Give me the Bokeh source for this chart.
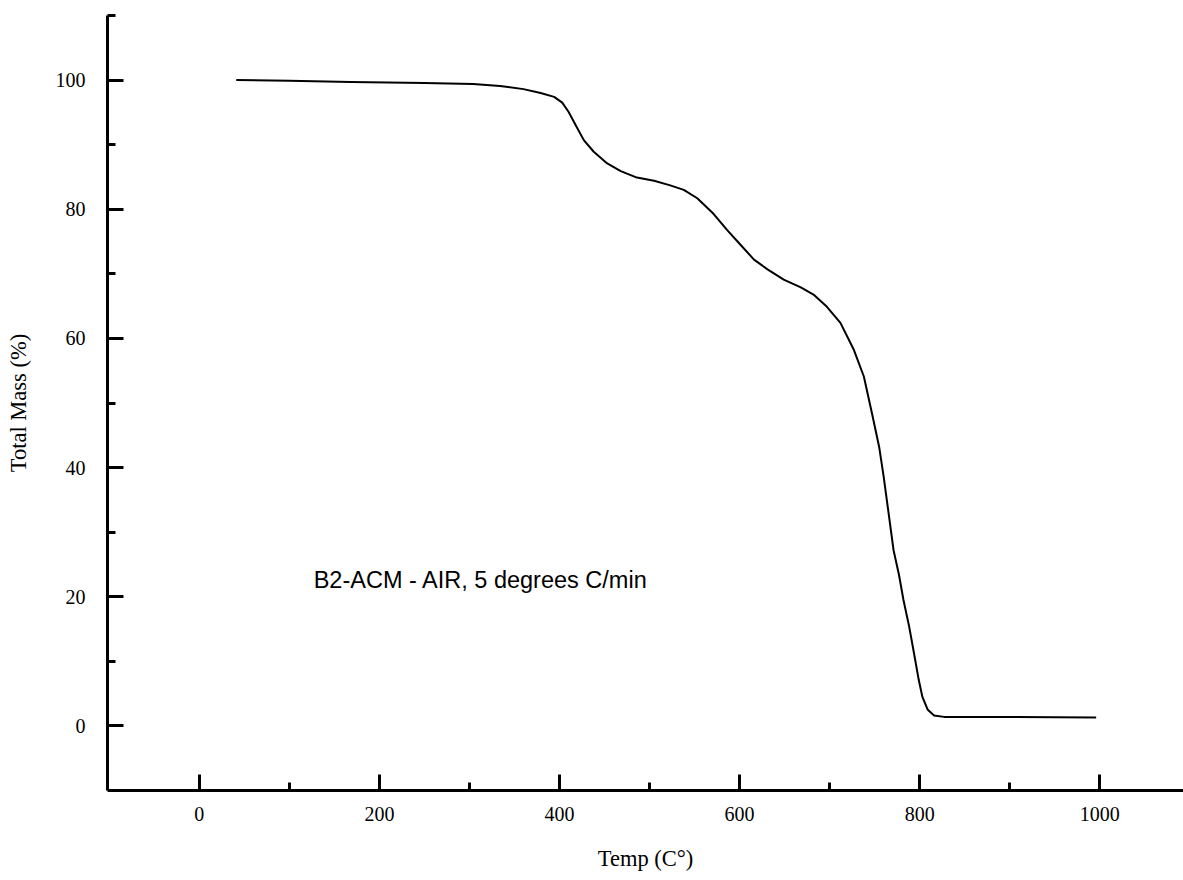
from bokeh.plotting import figure
from bokeh.models import Range1d, FixedTicker, Label, ColumnDataSource
from bokeh.embed import file_html
from bokeh.resources import INLINE

# Temperature (deg C) and total mass (%)
temp = [41, 100, 168, 250, 304, 334, 360, 379, 394, 403, 410, 418, 427, 438,
        453, 468, 486, 505, 523, 538, 553, 571, 586, 601, 616, 631, 649, 668,
        683, 697, 712, 727, 738, 747, 755, 760, 766, 771, 777, 782, 788, 793,
        799, 803, 809, 816, 827, 900, 996]
mass = [100.0, 99.9, 99.7, 99.55, 99.4, 99.1, 98.6, 98.0, 97.4, 96.5, 95.1,
        93.0, 90.7, 88.9, 87.1, 85.9, 84.9, 84.4, 83.7, 83.0, 81.7, 79.3, 76.8,
        74.5, 72.2, 70.7, 69.1, 67.9, 66.7, 64.9, 62.4, 58.2, 54.1, 48.4, 43.2,
        38.6, 32.4, 27.2, 23.4, 19.5, 15.6, 11.8, 7.1, 4.5, 2.5, 1.6, 1.4, 1.4,
        1.3]

x_major = [0, 200, 400, 600, 800, 1000]
x_minor = [100, 300, 500, 700, 900]
y_major = [0, 20, 40, 60, 80, 100]
y_minor = [10, 30, 50, 70, 90, 110]

note_text = "B2-ACM - AIR, 5 degrees C/min"
note_pos = (127, 22.6)

p = figure(width=1183, height=880, output_backend="svg", toolbar_location=None,
           x_range=Range1d(-102, 1093), y_range=Range1d(-10, 110),
           min_border_left=107, min_border_right=0, min_border_top=15,
           min_border_bottom=90)
p.outline_line_color = None
p.xgrid.visible = False
p.ygrid.visible = False
p.background_fill_color = "white"
p.border_fill_color = "white"

src = ColumnDataSource(dict(t=temp, m=mass))
p.line("t", "m", source=src, line_color="black", line_width=2,
       line_join="round")

p.add_layout(Label(x=note_pos[0], y=note_pos[1], text=note_text,
                   text_font="Liberation Sans", text_font_size="23.5px",
                   text_baseline="middle", text_color="black"))

serif = "Liberation Serif"
for ax, maj, mnr in ((p.xaxis[0], x_major, x_minor), (p.yaxis[0], y_major, y_minor)):
    ax.ticker = FixedTicker(ticks=maj, minor_ticks=mnr)
    ax.axis_line_width = 3
    ax.axis_line_color = "black"
    ax.major_tick_in = 16
    ax.major_tick_out = 0
    ax.minor_tick_in = 8
    ax.minor_tick_out = 0
    ax.major_tick_line_width = 3
    ax.minor_tick_line_width = 3
    ax.major_tick_line_color = "black"
    ax.minor_tick_line_color = "black"
    ax.major_label_text_font = serif
    ax.major_label_text_font_size = "20px"
    ax.major_label_text_color = "black"
    ax.axis_label_text_font = serif
    ax.axis_label_text_font_size = "22.5px"
    ax.axis_label_text_font_style = "normal"
    ax.axis_label_text_color = "black"

p.xaxis.axis_label = "Temp (C°)"
p.yaxis.axis_label = "Total Mass (%)"
p.xaxis.major_label_standoff = 16
p.xaxis.axis_label_standoff = 22
p.yaxis.major_label_standoff = 22
p.yaxis.axis_label_standoff = 22

open("out.html", "w").write(file_html(p, INLINE))
